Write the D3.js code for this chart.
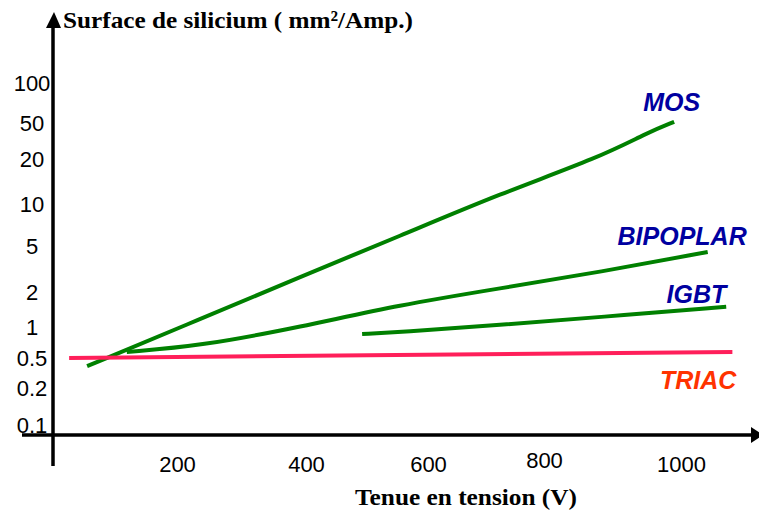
<!DOCTYPE html>
<html>
<head>
<meta charset="utf-8">
<script src="https://cdn.jsdelivr.net/npm/d3@7"></script>
<style>
  html, body { margin: 0; padding: 0; background: #fff; }
  svg { display: block; }
</style>
</head>
<body>
<svg id="chart" width="759" height="512"></svg>
<script>
// ---------- data ----------
const xTicks = [200, 400, 600, 800, 1000];
const yTicks = [100, 50, 20, 10, 5, 2, 1, 0.5, 0.2, 0.1];
const yTickLabels = ["100", "50", "20", "10", "5", "2", "1", "0.5", "0.2", "0.1"];

const seriesNames = ["MOS", "BIPOPLAR", "IGBT", "TRIAC"];
const mosValues      = [[55, 0.39], [236, 1.17], [391, 2.7], [554, 5.9], [724, 11.7], [882, 21], [950, 38.8], [990, 51]];
const bipolarValues  = [[119, 0.572], [236, 0.654], [391, 1.0], [554, 1.55], [724, 2.15], [882, 2.98], [1039, 4.44]];
const igbtValues     = [[492, 0.855], [554, 0.894], [724, 1.04], [882, 1.22], [1066, 1.49]];
const triacValues    = [[26, 0.5], [1075, 0.572]];

// ---------- layout / style ----------
const W = 759, H = 512;
const xAxisY = 435, yAxisX = 53;
// hand-placed tick positions of the original (piecewise scales)
const xDomainStops = [0, 200, 400, 600, 800, 1000];
const xRangeStops  = [53, 177, 306, 428, 544, 681];
const yRangeStops  = [83, 123, 159, 204, 246, 292, 327, 358, 388, 425];

const green = "#008000";
const series = [
  { name: seriesNames[0], values: mosValues,     color: green,     label: "#0000A0", dx: 26, dy: -11 },
  { name: seriesNames[1], values: bipolarValues, color: green,     label: "#0000A0", dx: 39, dy: -7 },
  { name: seriesNames[2], values: igbtValues,    color: green,     label: "#0000A0", dx: 0,  dy: -4 },
  { name: seriesNames[3], values: triacValues,   color: "#FF1F5A", label: "#FF3300", dx: 4,  dy: 37 }
];

const svg = d3.select("#chart");

const x = d3.scaleLinear().domain(xDomainStops).range(xRangeStops);
const y = d3.scaleLog().domain(yTicks).range(yRangeStops);

// ---------- tick labels via d3 axes ----------
const gx = svg.append("g").attr("transform", `translate(0,${xAxisY})`)
  .call(d3.axisBottom(x).tickValues(xTicks).tickSize(0).tickFormat(d3.format("d")));
gx.select(".domain").remove();
gx.selectAll("text")
  .attr("y", d => d === 800 ? 33 : 37).attr("dy", 0)
  .style("font-family", "'Liberation Sans', Arial, sans-serif")
  .style("font-size", "22px").attr("fill", "#000");

const gy = svg.append("g").attr("transform", `translate(${yAxisX},0)`)
  .call(d3.axisLeft(y).tickValues(yTicks).tickSize(0).tickFormat((d, i) => yTickLabels[i]));
gy.select(".domain").remove();
gy.selectAll("text")
  .attr("x", -21).attr("dy", "0.36em")
  .attr("text-anchor", "middle")
  .style("font-family", "'Liberation Sans', Arial, sans-serif")
  .style("font-size", "22px").attr("fill", "#000");

// ---------- axis lines with arrows ----------
svg.append("line")
  .attr("x1", 22).attr("x2", 751).attr("y1", xAxisY).attr("y2", xAxisY)
  .attr("stroke", "#000").attr("stroke-width", 3.5);
svg.append("path")
  .attr("d", `M751,${xAxisY - 8} L763,${xAxisY} L751,${xAxisY + 8} Z`)
  .attr("fill", "#000");

svg.append("line")
  .attr("x1", yAxisX).attr("x2", yAxisX).attr("y1", 466).attr("y2", 27)
  .attr("stroke", "#000").attr("stroke-width", 3.5);
svg.append("path")
  .attr("d", `M${yAxisX - 7},28 L${yAxisX + 1},12 L${yAxisX + 8},28 Z`)
  .attr("fill", "#000");

// ---------- axis titles ----------
svg.append("text")
  .attr("x", 63).attr("y", 28)
  .attr("textLength", 350).attr("lengthAdjust", "spacingAndGlyphs")
  .style("font-family", "'Liberation Serif', 'Times New Roman', serif")
  .style("font-weight", "bold").style("font-size", "24px")
  .text("Surface de silicium ( mm²/Amp.)");

svg.append("text")
  .attr("x", 355).attr("y", 505)
  .attr("textLength", 222).attr("lengthAdjust", "spacingAndGlyphs")
  .style("font-family", "'Liberation Serif', 'Times New Roman', serif")
  .style("font-weight", "bold").style("font-size", "24px")
  .text("Tenue en tension (V)");

// ---------- series ----------
const line = d3.line().x(d => x(d[0])).y(d => y(d[1])).curve(d3.curveBasis);

svg.append("g").selectAll("path").data(series).join("path")
  .attr("d", d => line(d.values))
  .attr("fill", "none")
  .attr("stroke", d => d.color)
  .attr("stroke-width", 4);

svg.append("g").selectAll("text").data(series).join("text")
  .attr("x", d => x(d.values[d.values.length - 1][0]) + d.dx)
  .attr("y", d => y(d.values[d.values.length - 1][1]) + d.dy)
  .attr("text-anchor", "end")
  .style("font-family", "'Liberation Sans', Arial, sans-serif")
  .style("font-weight", "bold").style("font-style", "italic")
  .style("font-size", "25px")
  .attr("fill", d => d.label)
  .text(d => d.name);
</script>
</body>
</html>
